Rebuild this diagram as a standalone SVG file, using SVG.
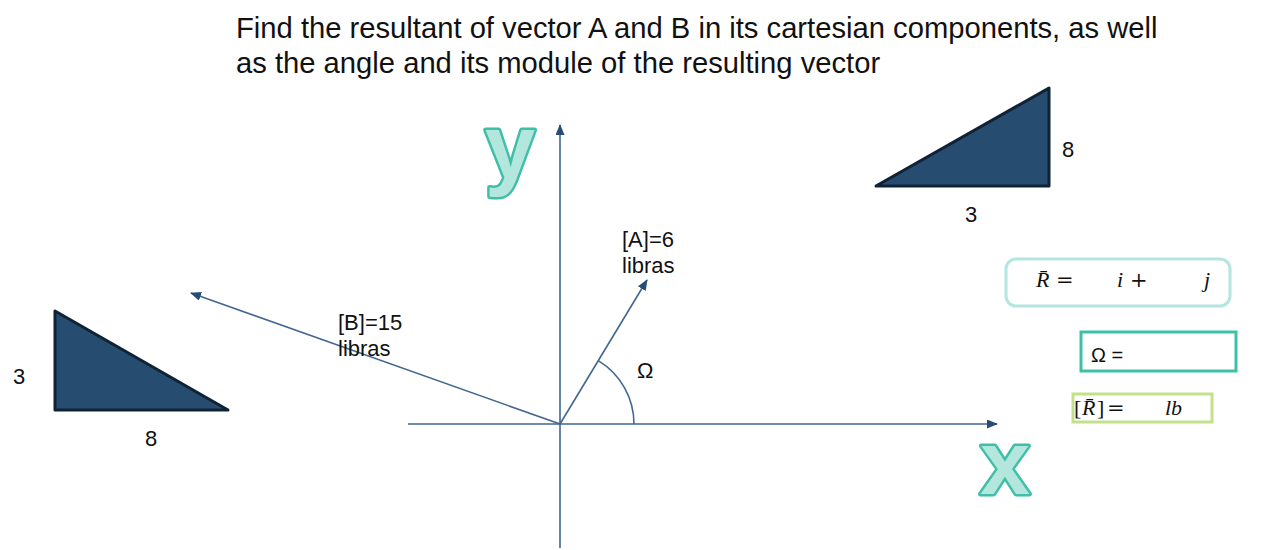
<svg xmlns="http://www.w3.org/2000/svg" width="1277" height="550" viewBox="0 0 1277 550">
<style>
.t{font-family:"Liberation Sans",Arial,sans-serif;fill:#111}
.lbl{font-size:22px}
.title{font-size:29.2px}
.axis{stroke:#41668f;stroke-width:1.6;fill:none}
.tri{fill:#264d70;stroke:#0f2236;stroke-width:3;stroke-linejoin:round}
.big{font-family:"Liberation Sans",Arial,sans-serif;font-weight:bold;font-size:90px;fill:#b3e6dd;stroke:#40bfa8;stroke-width:5;stroke-linejoin:round;paint-order:stroke}
.m{font-family:"Liberation Serif","DejaVu Serif",serif;font-size:22px;fill:#111}
.mi{font-style:italic}
.op{font-family:"DejaVu Serif",serif;font-size:21px}
</style>
<defs>
<marker id="ah" markerUnits="userSpaceOnUse" markerWidth="11" markerHeight="9" refX="10" refY="4.5" orient="auto">
<path d="M0,0 L11,4.5 L0,9 z" fill="#274d74"/>
</marker>
</defs>
<rect width="1277" height="550" fill="#fff"/>
<g id="title">
<text class="t title" x="236" y="38">Find the resultant of vector A and B in its cartesian components, as well</text>
<text class="t title" x="236" y="73">as the angle and its module of the resulting vector</text>
</g>
<g id="connectors">
<path class="axis" d="M560,548 L560,125" marker-end="url(#ah)"/>
<path class="axis" d="M408,424 L997,424" marker-end="url(#ah)"/>
<path class="axis" d="M560,424 L647,280" marker-end="url(#ah)"/>
<path class="axis" d="M560,424 L191,293" marker-end="url(#ah)"/>
<path class="axis" d="M598.2,360.6 A74,74 0 0 1 634,424"/>
</g>
<g id="axis-y-label"><text class="big" x="485" y="178">y</text></g>
<g id="axis-x-label"><text class="big" x="980" y="494">x</text></g>
<g id="label-A">
<text class="t lbl" x="622" y="247">[A]=6</text>
<text class="t lbl" x="622" y="273">libras</text>
</g>
<g id="label-B">
<text class="t lbl" x="338" y="330">[B]=15</text>
<text class="t lbl" x="338" y="356">libras</text>
</g>
<g id="angle-label"><text class="t lbl" x="637" y="378">Ω</text></g>
<g id="triangle-right">
<polygon class="tri" points="876,186 1049,88 1049,186"/>
<text class="t lbl" x="1062" y="157">8</text>
<text class="t lbl" x="965" y="222">3</text>
</g>
<g id="triangle-left">
<polygon class="tri" points="55,311 55,410 228,410"/>
<text class="t lbl" x="13" y="384">3</text>
<text class="t lbl" x="145" y="446">8</text>
</g>
<g id="box-R">
<rect x="1006" y="259" width="224" height="47" rx="10" fill="#fff" stroke="#b3e6e0" stroke-width="3"/>
<text class="m" y="287"><tspan class="mi" x="1036">R̄</tspan><tspan class="op" x="1056">=</tspan><tspan class="mi" x="1117">i</tspan><tspan class="op" x="1130">+</tspan><tspan class="mi" x="1204">j</tspan></text>
</g>
<g id="box-omega">
<rect x="1081" y="332" width="155" height="39" fill="#fff" stroke="#3dbfa8" stroke-width="3"/>
<text class="t" style="font-size:20px" x="1091" y="362">Ω =</text>
</g>
<g id="box-mod">
<rect x="1073" y="394" width="139" height="28" fill="#fff" stroke="#c5e08a" stroke-width="3"/>
<text class="m" y="415"><tspan x="1074">[</tspan><tspan class="mi" x="1082">R̄</tspan><tspan x="1097">]</tspan><tspan class="op" x="1107">=</tspan><tspan class="mi" x="1165">lb</tspan></text>
</g>
</svg>
